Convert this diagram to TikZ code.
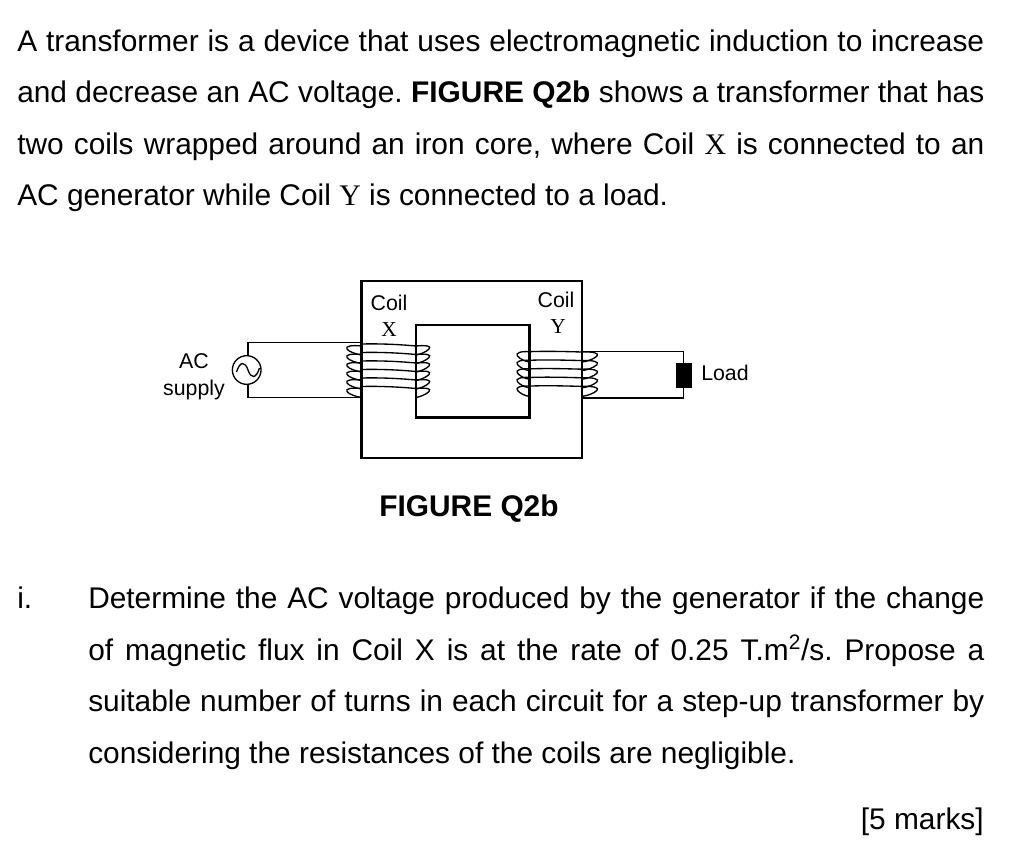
\documentclass[tikz,border=0pt]{standalone}
\usepackage{fontspec}
\setmainfont{Liberation Sans}
\newfontfamily\serifX{Liberation Serif}
\frenchspacing
\newcommand{\fullline}[1]{\makebox[725.25pt][s]{#1}}
\newcommand{\itemline}[1]{\makebox[672pt][s]{#1}}
\tikzset{
  every picture/.style={x=0.75pt,y=-0.75pt},
  para/.style={anchor=base west,inner sep=0pt,font=\fontsize{22.4pt}{24pt}\selectfont},
  small/.style={inner sep=0pt,align=center,font=\fontsize{16pt}{20pt}\selectfont},
  core/.style={line width=1.8pt},
  wire/.style={line width=1pt},
  coil/.style={line width=1pt}
}
\begin{document}
\begin{tikzpicture}
  \useasboundingbox (0,0) rectangle (1022,850);

  % question text
  \node[para] (l1) at (17,51)  {\fullline{A transformer is a device that uses electromagnetic induction to increase}};
  \node[para] (l2) at (17,102) {\fullline{and decrease an AC voltage. \textbf{FIGURE Q2b} shows a transformer that has}};
  \node[para] (l3) at (17,154) {\fullline{two coils wrapped around an iron core, where Coil {\serifX X} is connected to an}};
  \node[para] (l4) at (17,205) {AC generator while Coil {\serifX Y} is connected to a load.};

  % iron core
  \draw[core] (361.5,281) rectangle (582,458);
  \draw[core] (416,325) rectangle (529.5,417.5);

  % coil X
  \foreach \y in {0,8.5,17,25.5,34,42.5} {
    \draw[coil] (361.5,344+\y) .. controls (380,343.5+\y) and (400,344.5+\y) .. (416,346+\y)
      .. controls (426,345+\y) and (432,346+\y) .. (429,349+\y)
      .. controls (426,352+\y) and (421,354+\y) .. (416,355+\y);
    \draw[coil] (361.5,346+\y) .. controls (352,345+\y) and (345,346+\y) .. (347,349+\y)
      .. controls (349,352+\y) and (356,354+\y) .. (361.5,355+\y);
  }

  % coil Y
  \foreach \y in {0,8.6,17.2,25.8,34.4} {
    \draw[coil] (529.5,351.7+\y) .. controls (545,351+\y) and (565,351.5+\y) .. (582,352+\y)
      .. controls (592,351.5+\y) and (600,353+\y) .. (597,356+\y)
      .. controls (594,359+\y) and (587,361.5+\y) .. (582,362+\y);
    \draw[coil] (529.5,351.7+\y) .. controls (521,351+\y) and (515,353+\y) .. (517.5,356+\y)
      .. controls (520,359+\y) and (525,361.5+\y) .. (529.5,362+\y);
  }

  % AC supply
  \node[draw,circle,line width=1pt,minimum size=21.5pt,inner sep=0pt] (gen) at (246.7,370) {};
  \draw[line width=1pt] (236.5,372) .. controls (240,361) and (245,361) .. (248,370)
    .. controls (251,379) and (256,379) .. (259.5,368);
  \coordinate (gtop) at (248,342.7);
  \coordinate (gbot) at (248,397.3);
  \coordinate (xtop) at (361.5,342.7);
  \coordinate (xbot) at (361.5,397.3);
  \draw[wire] (gen.north -| gtop) -- (gtop) -- (xtop);
  \draw[wire] (gen.south -| gbot) -- (gbot) -- (xbot);

  % load
  \node[draw,fill=black,minimum width=11pt,minimum height=18pt,inner sep=0pt] (load) at (683.5,375) {};
  \coordinate (ltop) at (683.5,351.5);
  \coordinate (lbot) at (683.5,398);
  \coordinate (ytop) at (582,351.5);
  \coordinate (ybot) at (582,398);
  \draw[wire] (ytop) -- (ltop) -- (load.north);
  \draw[wire] (ybot) -- (lbot) -- (load.south);

  % labels
  \node[small,font=\fontsize{16pt}{20.3pt}\selectfont] (ac) at (194,377) {AC\\supply};
  \node[small] (cx) at (389,303) {Coil};
  \node[small] (xx) at (389,330) {\serifX X};
  \node[small] (cy) at (556,300) {Coil};
  \node[small] (yy) at (558,327) {\serifX Y};
  \node[small,anchor=west] (ld) at (701,373) {Load};

  \node[para,anchor=base,font=\fontsize{22.4pt}{24pt}\selectfont\bfseries] (cap) at (469,516) {FIGURE Q2b};

  % part i
  \node[para] (i) at (17,608) {i.};
  \node[para] (p1) at (88,608) {\itemline{Determine the AC voltage produced by the generator if the change}};
  \node[para] (p2) at (88,660) {\itemline{of magnetic flux in Coil X is at the rate of 0.25 T.m\textsuperscript{2}/s. Propose a}};
  \node[para] (p3) at (88,711) {\itemline{suitable number of turns in each circuit for a step-up transformer by}};
  \node[para] (p4) at (88,763) {considering the resistances of the coils are negligible.};
  \node[para,anchor=base east] (m) at (984,829) {[5 marks]};
\end{tikzpicture}
\end{document}
